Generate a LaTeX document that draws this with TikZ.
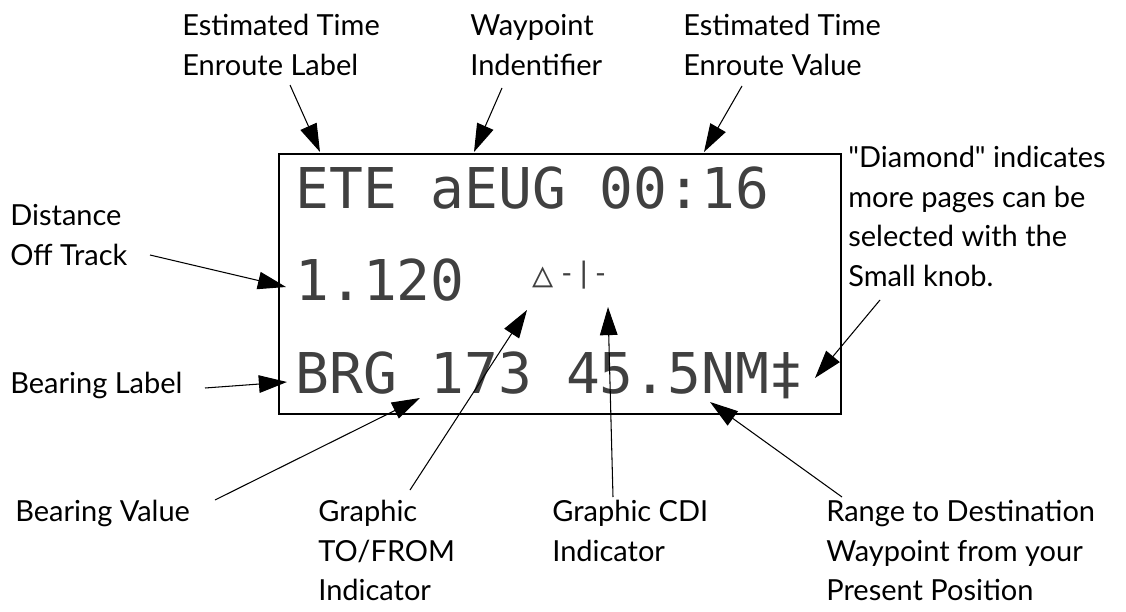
\documentclass[tikz,border=0pt]{standalone}
\usepackage{fontspec}
\setmainfont{Lato}
\newfontfamily\lcdfont{DejaVu Sans Mono}
\usetikzlibrary{arrows.meta}
\begin{document}
\begin{tikzpicture}[x=0.02cm,y=-0.02cm,
    callout/.style={
        anchor=north west,
        align=left,
        inner sep=0pt,
        font=\fontsize{16.5}{22.5}\selectfont
    },
    lcd/.style={
        anchor=base west,
        inner sep=0pt,
        text=black!75,
        font=\lcdfont\fontsize{32}{32}\selectfont
    },
    pointer/.style={
        -{Triangle[length=16pt,width=10pt]},
        line width=0.6pt
    }
]
\useasboundingbox (0,0) rectangle (1126,612);

% Display
\node[draw, line width=1pt, minimum width=562*0.02cm, minimum height=260*0.02cm,
      anchor=north west, inner sep=0pt] (screen) at (278,153) {};
\node[lcd] (row1) at (295,208) {ETE aEUG 00:16};
\node[lcd] (row2) at (295,300) {1.120};
\node[lcd, font=\lcdfont\fontsize{20}{20}\selectfont] (tofrom) at (532,286) {△};
\node[lcd, font=\lcdfont\fontsize{16}{16}\selectfont] (cdi) at (558,282) {-|-};
\node[lcd] (row3) at (295,393) {BRG 173 45.5NM‡};

% Labels
\node[callout] (eteL) at (182,14) {Estimated Time\\Enroute Label};
\node[callout] (wpt) at (470,14) {Waypoint\\Indentifier};
\node[callout] (eteV) at (683,14) {Estimated Time\\Enroute Value};
\node[callout] (diam) at (848,146) {\textquotedbl Diamond\textquotedbl{} indicates\\more pages can be\\selected with the\\Small knob.};
\node[callout] (dist) at (10,204) {Distance\\Off Track};
\node[callout] (brgL) at (10,372) {Bearing Label};
\node[callout] (brgV) at (15,500) {Bearing Value};
\node[callout] (tf) at (318,500) {Graphic\\TO/FROM\\Indicator};
\node[callout] (cdiL) at (552,500) {Graphic CDI\\Indicator};
\node[callout] (rng) at (826,500) {Range to Destination\\Waypoint from your\\Present Position};

% Arrow ends
\coordinate (a1) at (290,85);  \coordinate (b1) at (320,152);
\coordinate (a2) at (502,88);  \coordinate (b2) at (474,152);
\coordinate (a3) at (742,86);  \coordinate (b3) at (704,152);
\coordinate (a4) at (880,300); \coordinate (b4) at (815,378);
\coordinate (a5) at (150,255); \coordinate (b5) at (286,287);
\coordinate (a6) at (205,388); \coordinate (b6) at (287,382);
\coordinate (a7) at (215,500); \coordinate (b7) at (420,398);
\coordinate (a8) at (410,490); \coordinate (b8) at (527,310);
\coordinate (a9) at (613,497); \coordinate (b9) at (608,307);
\coordinate (a10) at (842,497); \coordinate (b10) at (710,402);

% Arrows
\foreach \i in {1,...,10}
    \draw[pointer] (a\i) -- (b\i);

\end{tikzpicture}
\end{document}
